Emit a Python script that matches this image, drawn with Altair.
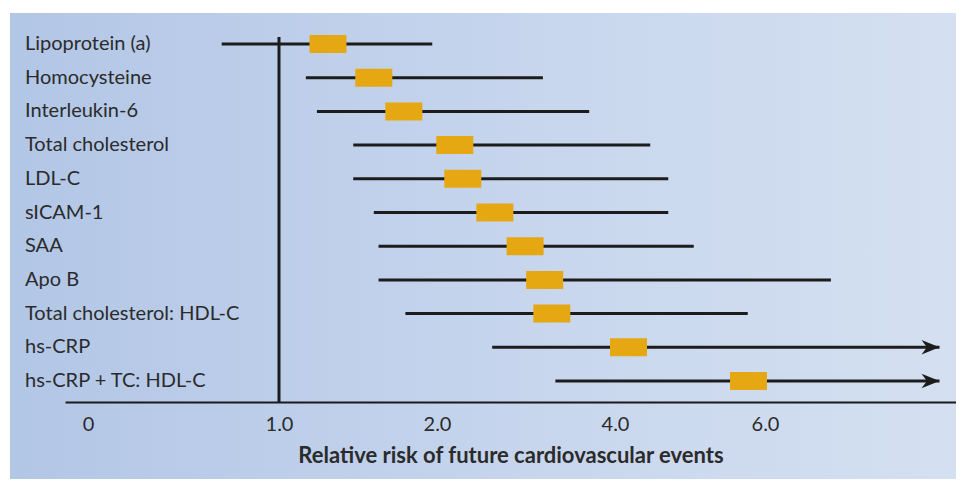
import altair as alt
import pandas as pd

categories = ["Lipoprotein (a)", "Homocysteine", "Interleukin-6", "Total cholesterol",
              "LDL-C", "sICAM-1", "SAA", "Apo B", "Total cholesterol: HDL-C",
              "hs-CRP", "hs-CRP + TC: HDL-C"]
low = [0.70, 1.17, 1.24, 1.47, 1.47, 1.60, 1.63, 1.63, 1.80, 2.62, 3.33]
point = [1.31, 1.60, 1.79, 2.20, 2.29, 2.65, 2.99, 3.21, 3.29, 4.18, 5.78]
high = [1.97, 3.19, 3.71, 4.47, 4.71, 4.71, 5.05, 6.88, 5.77, 8.33, 8.33]
open_ended = [False] * 9 + [True, True]

tick_values = [0, 1, 2, 4, 6]
tick_labels = ["0", "1.0", "2.0", "4.0", "6.0"]

W, H = 946, 389
BOTTOM = 77

df = pd.DataFrame({"cat": categories, "low": low, "point": point, "high": high,
                   "open": open_ended})

xscale = alt.Scale(domain=[-0.12, 0, 1, 2, 4, 6, 8.55],
                   range=[55, 78, 269, 427, 605, 755, W], zero=False, nice=False)
yscale = alt.Scale(type="point", domain=categories, range=[31, 368], padding=0)

label_expr = "datum.value == 0 ? '0' : format(datum.value, '.1f')"

xaxis = alt.Axis(values=tick_values, labelExpr=label_expr, zindex=1,
                 domainColor="#1a1a1a", domainWidth=2, ticks=False, grid=False,
                 labelFont="Lato", labelFontSize=20, labelColor="#2b2b2b",
                 labelPadding=12, labelFlush=False,
                 title="Relative risk of future cardiovascular events",
                 titleFont="Lato", titleFontSize=22, titleFontWeight="bold",
                 titleColor="#2b2b2b", titlePadding=11)

bg = alt.Chart(pd.DataFrame({"a": [0]})).mark_rect(
    color=alt.LinearGradient(gradient="linear",
                             stops=[alt.GradientStop(color="#b2c6e6", offset=0),
                                    alt.GradientStop(color="#c9d7ee", offset=0.6),
                                    alt.GradientStop(color="#d4e0f1", offset=1)],
                             x1=0, x2=1, y1=0, y2=0)
).encode(x=alt.value(0), x2=alt.value(W), y=alt.value(0), y2=alt.value(H + BOTTOM))

base = alt.Chart(df)

rules = base.mark_rule(color="#1c1c1c", strokeWidth=3).encode(
    x=alt.X("low:Q", scale=xscale, axis=xaxis),
    x2="high:Q",
    y=alt.Y("cat:N", scale=yscale, axis=None),
)

vline = alt.Chart(pd.DataFrame({"v": [1]})).mark_rule(color="#1c1c1c", strokeWidth=3).encode(
    x=alt.X("v:Q", scale=xscale, axis=xaxis), y=alt.value(24), y2=alt.value(H)
)

arrows = base.transform_filter("datum.open").mark_point(
    shape="M-2,-0.8L0,0L-2,0.8L-1.4,0Z", size=324, filled=True, opacity=1,
    color="#1c1c1c"
).encode(x=alt.X("high:Q", scale=xscale, axis=xaxis), y=alt.Y("cat:N", scale=yscale, axis=None))

boxes = base.mark_tick(color="#e6a812", thickness=37, size=18, opacity=1).encode(
    x=alt.X("point:Q", scale=xscale, axis=xaxis), y=alt.Y("cat:N", scale=yscale, axis=None)
)

labels = base.mark_text(align="left", baseline="middle", font="Lato", fontSize=20,
                        color="#2b2b2b").encode(
    x=alt.value(15), y=alt.Y("cat:N", scale=yscale, axis=None), text="cat:N"
)

chart = alt.layer(bg, rules, vline, arrows, boxes, labels).properties(
    width=W, height=H, autosize="none",
    padding={"left": 2, "top": 5, "right": 0, "bottom": BOTTOM},
    background="white"
).configure_view(stroke=None)

chart.save("out.html", embed_options={"renderer": "svg", "actions": False})
